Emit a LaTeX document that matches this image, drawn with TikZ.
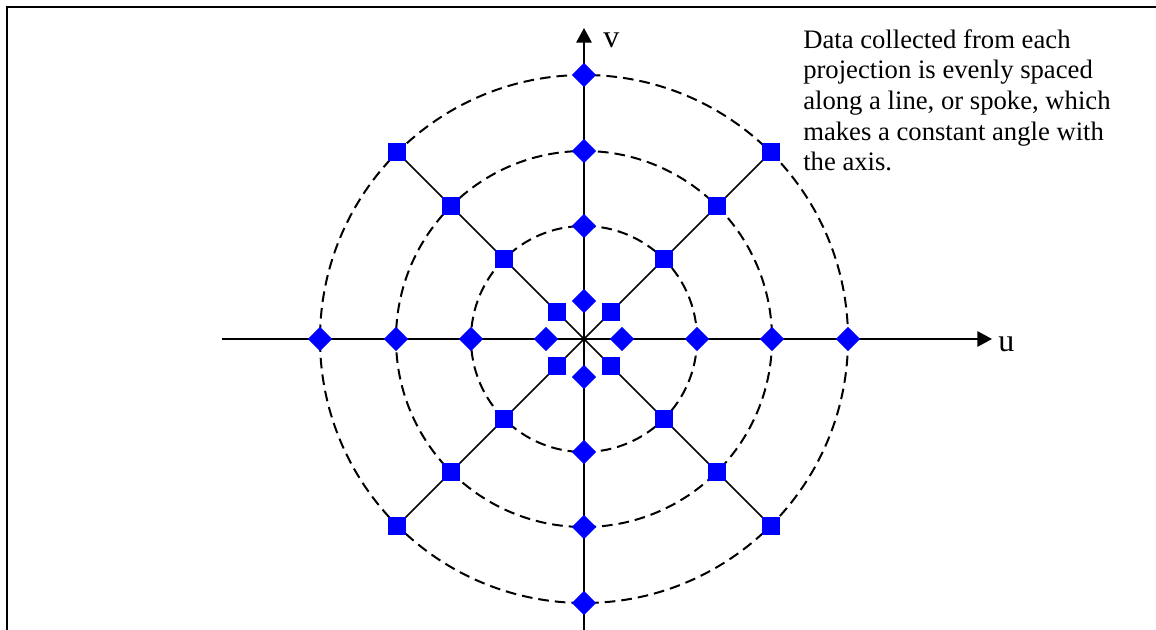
\documentclass[tikz,border=0pt]{standalone}
\usepackage{fontspec}
\setmainfont{Liberation Serif}
\usetikzlibrary{arrows.meta,backgrounds}
\begin{document}
\begin{tikzpicture}[
    x=0.75pt,y=-0.75pt,
    axis/.style={line width=1.5pt,-{Triangle[length=11pt,width=11.5pt]}},
    ring/.style={line width=1.5pt,dash pattern=on 8pt off 4.5pt},
    spoke/.style={line width=1.2pt},
    diam/.style={fill=blue,rectangle,rotate=45,minimum size=12.8pt,inner sep=0pt},
    sq/.style={fill=blue,rectangle,minimum size=13.5pt,inner sep=0pt},
    lbl/.style={font=\fontsize{24}{28}\selectfont,inner sep=0pt,anchor=base west}]
    \useasboundingbox (0,0) rectangle (1156,630);
    \draw[line width=2pt] (7,630) -- (7,7) -- (1156,7);
    \coordinate (o) at (584,339);
    \coordinate (uA) at (222,339);
    \coordinate (uB) at (992,339);
    \coordinate (vA) at (584,630);
    \coordinate (vB) at (584,28);
    \foreach \r [count=\k] in {38,113,188,264} {
        \foreach \a in {0,90,180,270}
            \node[diam] (m-\a-\k) at ([shift={(\a:\r)}]o) {};
        \foreach \a in {45,135,225,315}
            \node[sq] (m-\a-\k) at ([shift={(\a:\r)}]o) {};
    }
    \begin{pgfonlayer}{background}
        \foreach \r in {113,188,264}
            \draw[ring] (o) circle[radius=\r];
        \draw[axis] (uA) -- (uB);
        \draw[axis] (vA) -- (vB);
        \foreach \a in {45,135,225,315}
            \draw[spoke] (o) -- (m-\a-4.center);
    \end{pgfonlayer}
    \node[lbl] (ulab) at (998,352) {u};
    \node[lbl] (vlab) at (603,48) {v};
    \node[anchor=north west,inner sep=0pt,align=left,
        font=\fontsize{20}{23}\selectfont] (note) at (803,29)
        {Data collected from each\\projection is evenly spaced\\
         along a line, or spoke, which\\makes a constant angle with\\the axis.};
\end{tikzpicture}
\end{document}
